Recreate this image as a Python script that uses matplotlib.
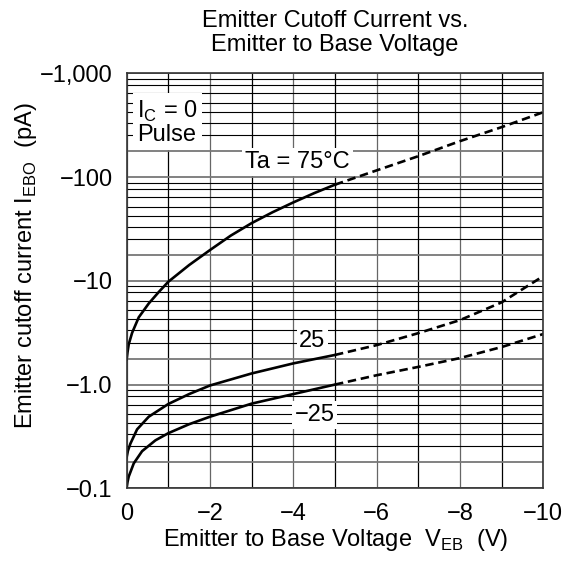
import matplotlib
matplotlib.use("Agg")
import matplotlib.pyplot as plt
from matplotlib.ticker import FixedLocator, NullFormatter, NullLocator

plt.rcParams['font.family'] = ['Liberation Sans', 'DejaVu Sans']

# --- Data (V_EB in V, |I_EBO| in pA) ---
v_75 = [0, -0.02, -0.05, -0.13, -0.29, -0.53, -0.77, -1, -1.5, -2, -2.5, -3, -3.5, -4, -4.5, -5]
i_75 = [1.75, 2.05, 2.45, 3.15, 4.45, 6.05, 7.8, 9.8, 14.2, 19.8, 27.3, 36, 45.8, 57, 70, 84.5]
v_75_dash = [-5, -6, -7, -8, -9, -10]
i_75_dash = [84.5, 116, 159, 222, 303, 422]

v_25 = [0, -0.03, -0.09, -0.25, -0.53, -1, -1.5, -2, -3, -4, -5]
i_25 = [0.2, 0.23, 0.27, 0.37, 0.49, 0.65, 0.81, 0.98, 1.28, 1.6, 1.93]
v_25_dash = [-5, -6, -7, -8, -9, -10]
i_25_dash = [1.93, 2.4, 3.13, 4.18, 6.2, 11.1]

v_m25 = [0, -0.02, -0.05, -0.17, -0.37, -0.69, -1, -1.5, -2, -3, -4, -5]
i_m25 = [0.102, 0.115, 0.13, 0.174, 0.228, 0.29, 0.34, 0.415, 0.49, 0.655, 0.81, 1.0]
v_m25_dash = [-5, -6, -7, -8, -9, -10]
i_m25_dash = [1.0, 1.23, 1.48, 1.8, 2.3, 3.07]

x_ticks = [0, -2, -4, -6, -8, -10]
x_labels = ["0", "\u22122", "\u22124", "\u22126", "\u22128", "\u221210"]
y_ticks = [0.1, 1, 10, 100, 1000]
y_labels = ["\u22120.1", "\u22121.0", "\u221210", "\u2212100", "\u22121,000"]

# where the printed chart puts its minor lines inside one decade (fraction of a decade)
minor_frac = [0.249, 0.404, 0.523, 0.629, 0.716, 0.806, 0.888, 0.946]

FS = 17
fig = plt.figure(figsize=(5.66, 5.69), dpi=100)
ax = fig.add_axes([0.2238, 0.1418, 0.736, 0.7293])
ax.set_yscale('log')
ax.set_xlim(0, -10)
ax.set_ylim(0.1, 1000)

# grid
for v in range(0, -11, -1):
    ax.axvline(v, color='black' if v % 2 else '#666666', lw=0.9, zorder=1)
for d in y_ticks:
    ax.axhline(d, color='#777777', lw=1.3, zorder=1)
for d in y_ticks[:-1]:
    for j, f in enumerate(minor_frac):
        ax.axhline(d * 10 ** f, color='#777777' if j == 0 else 'black',
                   lw=1.3 if j == 0 else 0.8, zorder=1)

lw = 1.9
dash = (0, (3.2, 1.8))
ax.plot(v_75, i_75, color='black', lw=lw, zorder=3)
ax.plot(v_75_dash, i_75_dash, color='black', lw=lw, ls=dash, zorder=3)
ax.plot(v_25, i_25, color='black', lw=lw, zorder=3)
ax.plot(v_25_dash, i_25_dash, color='black', lw=lw, ls=dash, zorder=3)
ax.plot(v_m25, i_m25, color='black', lw=lw, zorder=3)
ax.plot(v_m25_dash, i_m25_dash, color='black', lw=lw, ls=dash, zorder=3)

box = dict(facecolor='white', edgecolor='none', pad=2)
ax.text(-4.1, 139, "Ta = 75\u00b0C", fontsize=FS, ha='center', va='center', bbox=box, zorder=4)
ax.text(-4.46, 2.62, "25", fontsize=FS, ha='center', va='center', bbox=box, zorder=4)
ax.text(-4.51, 0.508, "\u221225", fontsize=FS, ha='center', va='center', bbox=box, zorder=4)
ax.text(-0.97, 338, "I$_\\mathregular{C}$ = 0\nPulse", fontsize=FS, ha='center', va='center',
        linespacing=1.0, bbox=dict(facecolor='white', edgecolor='none', pad=3), zorder=4)

ax.xaxis.set_major_locator(FixedLocator(x_ticks))
ax.set_xticklabels(x_labels, fontsize=FS)
ax.yaxis.set_major_locator(FixedLocator(y_ticks))
ax.yaxis.set_minor_locator(NullLocator())
ax.yaxis.set_minor_formatter(NullFormatter())
ax.set_yticklabels(y_labels, fontsize=FS)
ax.tick_params(axis='y', which='both', length=0, pad=10)
ax.tick_params(axis='x', which='both', length=0, pad=10.5)
for s in ax.spines.values():
    s.set_linewidth(1.2)
    s.set_color('#333333')
    s.set_zorder(5)

ax.set_xlabel("Emitter to Base Voltage  V$_\\mathregular{EB}$  (V)", fontsize=FS)
ax.xaxis.set_label_coords(0.502, -0.094)
ax.set_ylabel("Emitter cutoff current I$_\\mathregular{EBO}$  (pA)", fontsize=FS)
ax.yaxis.set_label_coords(-0.21, 0.536)
ax.set_title("Emitter Cutoff Current vs.\nEmitter to Base Voltage", fontsize=FS, pad=16, linespacing=1.1)

fig.savefig("out.png", dpi=100)
